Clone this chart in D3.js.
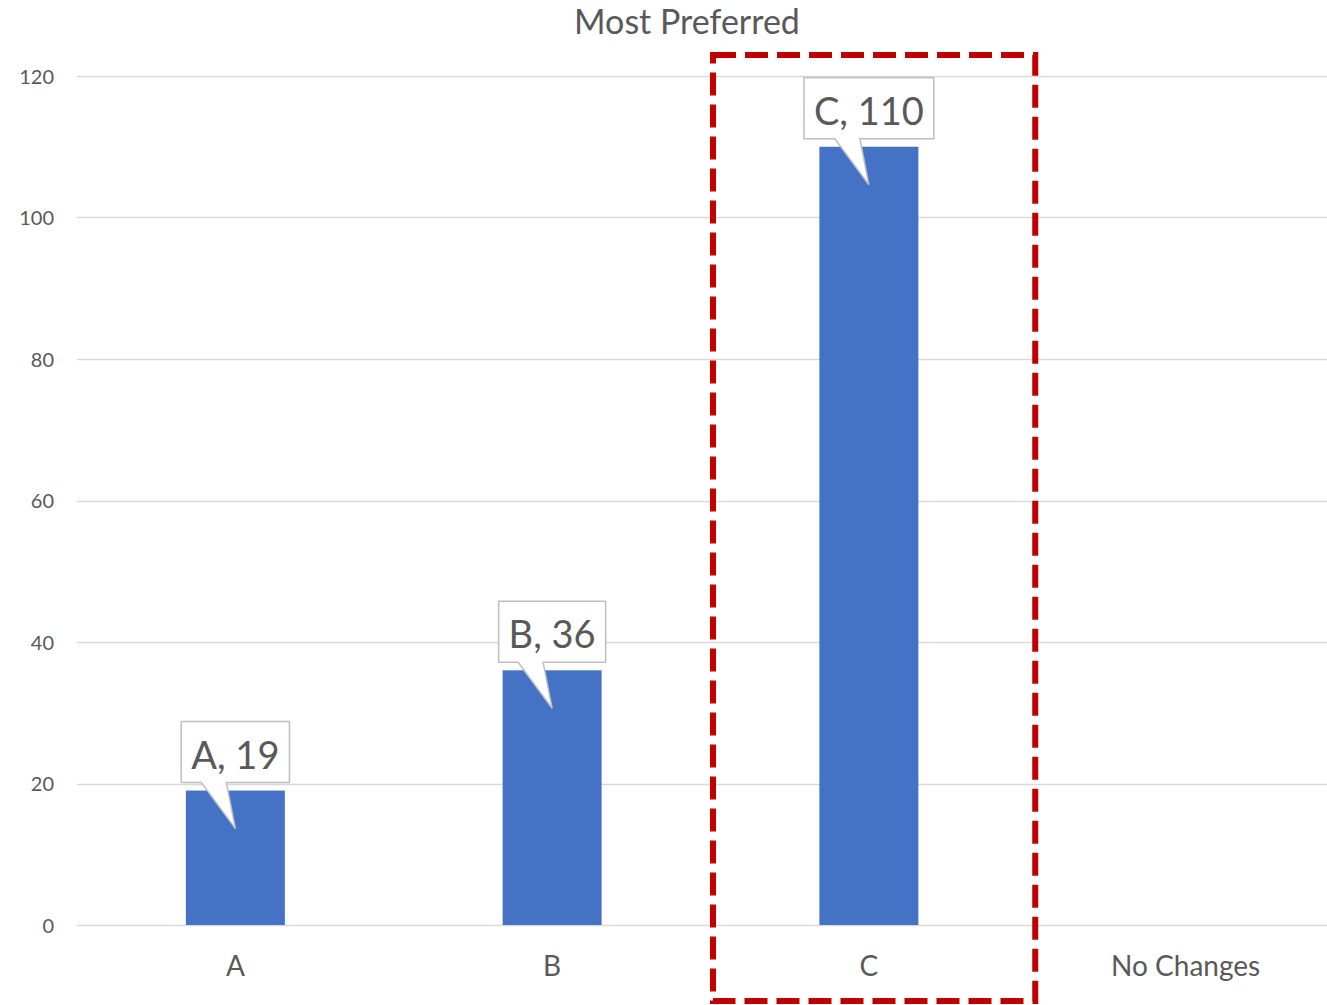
<!DOCTYPE html>
<html>
<head>
<meta charset="utf-8">
<script src="https://cdn.jsdelivr.net/npm/d3@7"></script>
<style>
  html, body { margin: 0; padding: 0; background: #fff; }
  text { font-family: Lato, "Liberation Sans", sans-serif; fill: #595959; }
</style>
</head>
<body>
<svg id="chart" width="1327" height="1005"></svg>
<script>
const categories = ["A", "B", "C", "No Changes"];
const values = [19, 36, 110, null];
const yTicks = [0, 20, 40, 60, 80, 100, 120];
const title = "Most Preferred";
const highlighted = "C";

const W = 1327, H = 1005;
const svg = d3.select("#chart");

const x = d3.scaleBand().domain(categories).range([77, 1344])
  .paddingInner(0.6875).paddingOuter(0.34375);
const y = d3.scaleLinear().domain([0, 120]).range([925, 76]);

// title
svg.append("text").attr("x", 687).attr("y", 34).attr("text-anchor", "middle")
  .style("font-size", "34px").text(title);

// gridlines
svg.append("g").selectAll("line").data(yTicks).join("line")
  .attr("x1", 77).attr("x2", W)
  .attr("y1", d => Math.round(y(d)) + 0.5).attr("y2", d => Math.round(y(d)) + 0.5)
  .attr("stroke", "#d9d9d9").attr("stroke-width", 1.5);

// y axis labels
const yAxis = d3.axisLeft(y).tickValues(yTicks).tickSize(0).tickPadding(0);
const gy = svg.append("g").attr("transform", "translate(54,0)").call(yAxis);
gy.select(".domain").remove();
gy.selectAll("text").style("font-size", "20px").style("fill", "#595959")
  .attr("dy", "0.35em").style("font-family", "Lato, sans-serif");

// bars
const data = categories.map((c, i) => ({ c, v: values[i] })).filter(d => d.v != null);
svg.append("g").selectAll("rect").data(data).join("rect")
  .attr("x", d => x(d.c)).attr("width", x.bandwidth())
  .attr("y", d => y(d.v)).attr("height", d => y(0) - y(d.v))
  .attr("fill", "#4472C4");

// x axis labels
const xAxis = d3.axisBottom(x).tickSize(0).tickPadding(0);
const gx = svg.append("g").attr("transform", "translate(0,955)").call(xAxis);
gx.select(".domain").remove();
gx.selectAll("text").style("font-size", "28px").style("fill", "#595959")
  .attr("dy", "0.75em").style("font-family", "Lato, sans-serif");

// callouts
const cg = svg.append("g");
data.forEach(d => {
  const cx = x(d.c) + x.bandwidth() / 2;
  const top = y(d.v);
  const boxBottom = top - 8, boxTop = boxBottom - 61;
  const g = cg.append("g");
  const path = g.append("path");
  const t = g.append("text").attr("x", cx).attr("y", boxBottom - 14)
    .attr("text-anchor", "middle").style("font-size", "38px")
    .text(d.c + ", " + d.v);
  const bb = t.node().getBBox();
  const pad = 10;
  const bl = cx - bb.width / 2 - pad, br = cx + bb.width / 2 + pad;
  const p = d3.path();
  p.moveTo(bl, boxTop); p.lineTo(br, boxTop); p.lineTo(br, boxBottom);
  p.lineTo(cx - 9, boxBottom); p.lineTo(cx, top + 38); p.lineTo(cx - 34, boxBottom);
  p.lineTo(bl, boxBottom); p.closePath();
  path.attr("d", p.toString()).attr("fill", "#fff").attr("stroke", "#bfbfbf")
    .attr("stroke-width", 1.5);
});

// highlight dashed rectangle around the highlighted category's full band
const step = x.step();
const bandLeft = x(highlighted) - (step - x.bandwidth()) / 2;
svg.append("rect")
  .attr("x", bandLeft + 2.5).attr("y", 55)
  .attr("width", step + 5.5).attr("height", 1001 - 55)
  .attr("fill", "none").attr("stroke", "#C00000").attr("stroke-width", 6)
  .attr("stroke-dasharray", "23,9");
</script>
</body>
</html>
